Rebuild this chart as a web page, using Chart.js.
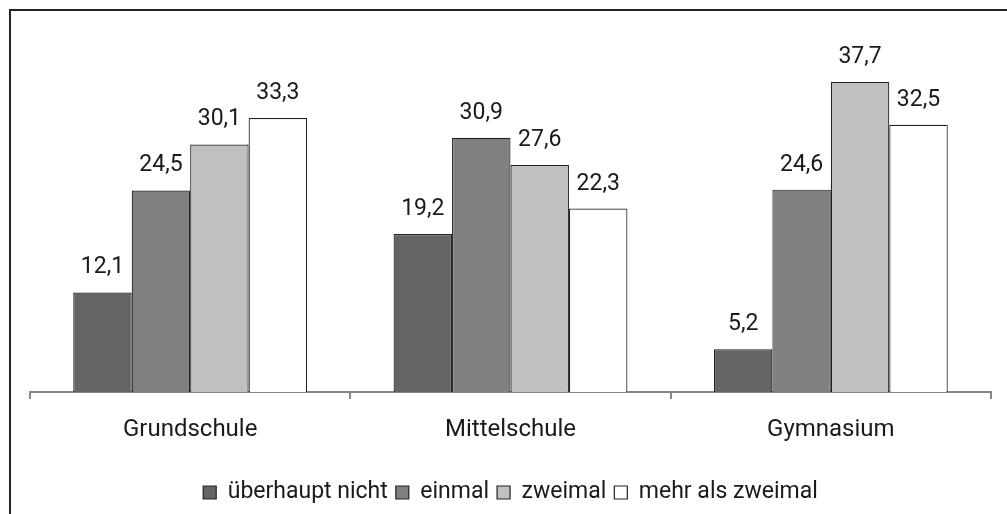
<!DOCTYPE html>
<html>
<head>
<meta charset="utf-8">
<script src="https://cdn.jsdelivr.net/npm/chart.js@4/dist/chart.umd.min.js"></script>
<style>
  html, body { margin: 0; padding: 0; background: #fff; overflow: hidden; }
  #wrap { position: relative; width: 1007px; height: 514px; }
  #frame {
    position: absolute; left: 9px; top: 9px; width: 1100px; height: 600px;
    border-left: 2px solid #222; border-top: 2px solid #222; pointer-events: none;
  }
  canvas { position: absolute; left: 0; top: 0; }
</style>
</head>
<body>
<div id="wrap">
  <div id="frame"></div>
  <canvas id="chart" width="1007" height="514"></canvas>
</div>
<script>
const categories = ['Grundschule', 'Mittelschule', 'Gymnasium'];
const seriesNames = ['überhaupt nicht', 'einmal', 'zweimal', 'mehr als zweimal'];
const ueberhauptNicht = [12.1, 19.2, 5.2];
const einmal = [24.5, 30.9, 24.6];
const zweimal = [30.1, 27.6, 37.7];
const mehrAlsZweimal = [33.3, 22.3, 32.5];
const barColors = ['#646464', '#808080', '#c0c0c0', '#ffffff'];

const fontFamily = 'Roboto, "Liberation Sans", Arial, sans-serif';

// value labels above each bar, German decimal comma
const valueLabels = {
    id: 'valueLabels',
    afterDatasetsDraw(chart) {
        const ctx = chart.ctx;
        ctx.save();
        ctx.font = '23px ' + fontFamily;
        ctx.fillStyle = '#1a1a1a';
        ctx.textAlign = 'center';
        ctx.textBaseline = 'alphabetic';
        chart.data.datasets.forEach((ds, i) => {
            chart.getDatasetMeta(i).data.forEach((bar, j) => {
                const txt = ds.data[j].toFixed(1).replace('.', ',');
                ctx.fillText(txt, bar.x, bar.y - 19);
            });
        });
        ctx.restore();
    }
};

const ctx = document.getElementById('chart').getContext('2d');
new Chart(ctx, {
    type: 'bar',
    data: {
        labels: categories,
        datasets: [ueberhauptNicht, einmal, zweimal, mehrAlsZweimal].map((d, i) => ({
            label: seriesNames[i],
            data: d,
            backgroundColor: barColors[i],
            borderColor: '#222',
            borderWidth: 1.2,
            categoryPercentage: 0.73,
            barPercentage: 1.0
        }))
    },
    options: {
        responsive: false,
        animation: false,
        layout: { padding: { left: 30, right: 16, top: 63, bottom: 0 } },
        plugins: {
            legend: {
                position: 'bottom',
                labels: {
                    font: { family: fontFamily, size: 23 },
                    color: '#1a1a1a',
                    boxWidth: 13,
                    boxHeight: 13,
                    padding: 8
                }
            },
            tooltip: { enabled: false }
        },
        scales: {
            x: {
                grid: {
                    offset: true,
                    drawOnChartArea: false,
                    drawTicks: true,
                    tickLength: 7,
                    color: '#888',
                    lineWidth: 2
                },
                border: { color: '#888', width: 2 },
                ticks: {
                    font: { family: fontFamily, size: 24 },
                    color: '#1a1a1a',
                    padding: 17
                },
                afterFit(scale) { scale.height = 81; }
            },
            y: {
                display: false,
                min: 0,
                max: 40
            }
        }
    },
    plugins: [valueLabels]
});
</script>
</body>
</html>
